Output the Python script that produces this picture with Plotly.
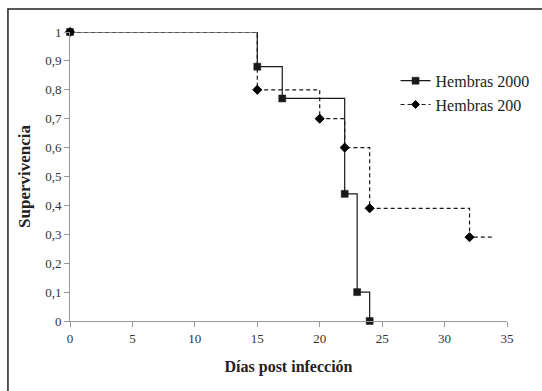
import plotly.graph_objects as go

dias_2000 = [0, 15, 17, 22, 23, 24]
surv_2000 = [1.0, 0.88, 0.77, 0.44, 0.10, 0.0]

dias_200 = [0, 15, 20, 22, 24, 32, 34]
surv_200 = [1.0, 0.80, 0.70, 0.60, 0.39, 0.29, 0.29]
marcas_200 = [7, 7, 7, 7, 7, 7, 0]

fig = go.Figure()
fig.add_trace(go.Scatter(
    x=dias_2000, y=surv_2000, name="Hembras 2000", mode="lines+markers",
    line=dict(color="#1a1a1a", width=1.2, shape="hv"),
    marker=dict(symbol="square", size=7, color="#1a1a1a", line=dict(width=0.5, color="#1a1a1a")),
    cliponaxis=False,
))
fig.add_trace(go.Scatter(
    x=dias_200, y=surv_200, name="Hembras 200", mode="lines+markers",
    line=dict(color="#1a1a1a", width=1.2, shape="hv", dash="4px,3px"),
    marker=dict(symbol="diamond", size=marcas_200, color="black", opacity=1,
                line=dict(width=1, color="black")),
    cliponaxis=False,
))

fig.update_layout(
    width=542, height=391,
    margin=dict(l=70, r=35, t=32, b=70, autoexpand=False),
    paper_bgcolor="white", plot_bgcolor="white",
    separators=",.",
    font=dict(family="Liberation Serif", color="#222", size=12),
    showlegend=True,
    legend=dict(x=0.745, y=0.89, xanchor="left", yanchor="top",
                font=dict(size=16, family="Liberation Serif", color="#222"),
                bgcolor="rgba(0,0,0,0)", tracegroupgap=0),
    xaxis=dict(range=[0, 35], dtick=5, showgrid=False, zeroline=False,
               showline=True, linecolor="#999", linewidth=1,
               ticks="outside", ticklen=5, tickcolor="#999",
               tickfont=dict(size=13, color="#333"),
               title=dict(text="<b>Días post infección</b>", font=dict(size=16, color="#222"), standoff=16)),
    yaxis=dict(range=[0, 1], dtick=0.1, showgrid=False, zeroline=False,
               showline=True, linecolor="#999", linewidth=1,
               ticks="outside", ticklen=5, tickcolor="#999",
               tickfont=dict(size=13, color="#333"),
               title=dict(text="<b>Supervivencia</b>", font=dict(size=17, color="#222"), standoff=10)),
    shapes=[dict(type="rect", xref="paper", yref="paper",
                 x0=-0.142, x1=1.09, y0=-0.26, y1=1.08,
                 line=dict(color="#222", width=1.5), fillcolor="rgba(0,0,0,0)")],
)

fig.write_html("out.html")
